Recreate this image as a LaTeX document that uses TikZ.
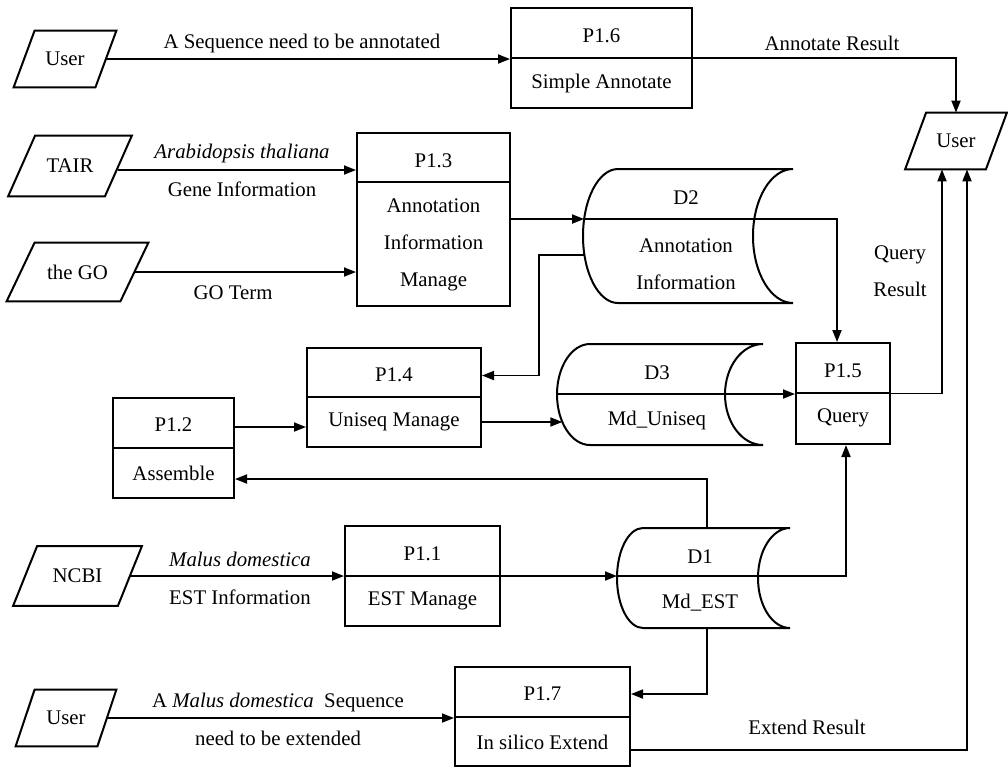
\documentclass[tikz,border=0pt]{standalone}
\usepackage{fontspec}
\setmainfont{Liberation Serif}
\usetikzlibrary{arrows.meta,fit}
\tikzset{
  boxline/.style={line width=1pt},
  box/.style={draw, line width=1pt, inner sep=0pt},
  txt/.style={inner sep=0pt, align=center},
  ptext/.style={inner sep=0pt},
  arr/.style={line width=0.9pt, -{Triangle[length=6pt,width=4.5pt]}},
}
% name, cx, cy, body width, height, slant, text
\newcommand{\paranode}[7]{%
  \node[ptext, minimum width={#4*0.5pt}, minimum height={#5*0.5pt}] (#1) at (#2,#3) {#7};
  \draw[boxline] ([xshift={#6*0.25pt}]#1.north west) -- ([xshift={#6*0.25pt}]#1.north east)
    -- ([xshift={-#6*0.25pt}]#1.south east) -- ([xshift={-#6*0.25pt}]#1.south west) -- cycle;
}
% name, x1, y1, x2, y2, ydiv
\newcommand{\procnode}[6]{%
  \node[box, fit={(#2,#3)(#4,#5)}] (#1) {};
  \draw[boxline] (#2,#6) -- (#4,#6);
}
% name, xl, xr, top, bot, dL, dR
\newcommand{\storenode}[7]{%
  \node[inner sep=0pt, fit={({#2-#6},#4)(#3,#5)}] (#1) {};
  \draw[boxline] (#2,#4) -- (#3,#4)
   .. controls ({#3-0.5523*#7},#4) and ({#3-#7},{(#4+#5)/2-0.5523*(#5-#4)/2}) .. ({#3-#7},{(#4+#5)/2})
   .. controls ({#3-#7},{(#4+#5)/2+0.5523*(#5-#4)/2}) and ({#3-0.5523*#7},#5) .. (#3,#5)
   -- (#2,#5)
   .. controls ({#2-0.5523*#6},#5) and ({#2-#6},{(#4+#5)/2+0.5523*(#5-#4)/2}) .. ({#2-#6},{(#4+#5)/2})
   .. controls ({#2-#6},{(#4+#5)/2-0.5523*(#5-#4)/2}) and ({#2-0.5523*#6},#4) .. (#2,#4) -- cycle;
}
\begin{document}
\begin{tikzpicture}[x=0.5pt,y=-0.5pt, font=\fontsize{10.4}{18.5}\selectfont]
\fill[white] (0,0) rectangle (1008,768);
\useasboundingbox (0,0) rectangle (1008,768);

% external entities
\paranode{u1}{65}{59}{81}{56}{21}{User}
\paranode{tair}{70}{166}{96}{60}{27}{TAIR}
\paranode{thego}{77.5}{272}{113}{58}{28}{the GO}
\paranode{ncbi}{77.5}{576}{104}{59}{24}{NCBI}
\paranode{u3}{66}{718}{81}{56}{19}{User}
\paranode{u2}{956}{141}{80}{56}{21}{User}

% processes
\procnode{p16}{511}{8}{692}{108}{58}
\node[txt] (p16t) at (601.5,36) {P1.6};
\node[txt] (p16b) at (601.5,83) {Simple Annotate};

\procnode{p13}{357}{133}{510}{306}{182}
\node[txt] (p13t) at (433.5,161) {P1.3};
\node[txt] (p13b) at (433.5,244.5) {Annotation\\Information\\Manage};

\procnode{p14}{307}{348}{481}{447}{397}
\node[txt] (p14t) at (394,375) {P1.4};
\node[txt] (p14b) at (394,422) {Uniseq Manage};

\procnode{p12}{113}{398}{234}{498}{448}
\node[txt] (p12t) at (173.5,425) {P1.2};
\node[txt] (p12b) at (173.5,473) {Assemble};

\procnode{p11}{345}{526}{500}{626}{576}
\node[txt] (p11t) at (422.5,554) {P1.1};
\node[txt] (p11b) at (422.5,601) {EST Manage};

\procnode{p17}{455}{667}{630}{766}{717}
\node[txt] (p17t) at (542.5,694) {P1.7};
\node[txt] (p17b) at (542.5,742) {In silico Extend};

\procnode{p15}{796}{343}{890}{444}{393}
\node[txt] (p15t) at (843,371) {P1.5};
\node[txt] (p15b) at (843,418) {Query};

% data stores
\storenode{d2}{618}{793}{169}{303}{35}{40}
\node[txt] (d2t) at (686,198) {D2};
\node[txt] (d2b) at (686,264) {Annotation\\Information};
\coordinate (d2in) at (584.1,219);
\coordinate (d2l) at (584.4,255);

\storenode{d3}{590}{763}{344}{445}{33}{38}
\node[txt] (d3t) at (657,373) {D3};
\node[txt] (d3b) at (657,420) {Md\_Uniseq};
\coordinate (d3l) at (557,394);
\coordinate (d3a) at (562.3,422);

\storenode{d1}{643}{790}{528}{628}{26}{32}
\node[txt] (d1t) at (700,557) {D1};
\node[txt] (d1b) at (700,603) {Md\_EST};
\coordinate (d1l) at (617,576);
\coordinate (d1top) at (707,528);
\coordinate (d1bot) at (707,628);

% connectors
\draw[arr] (u1.east) -- (u1.east -| p16.west);
\node[txt] (l1) at (302,43) {A Sequence need to be annotated};

\draw[arr] (p16.east) -| (u2.north);
\node[txt] (l2) at (832,43) {Annotate Result};

\draw[arr] ([yshift=-2pt]tair.east) -- ([yshift=-2pt]tair.east -| p13.west);
\node[txt] (l3) at (242,153) {\textit{Arabidopsis thaliana}};
\node[txt] (l4) at (242,189) {Gene Information};

\draw[arr] (thego.east) -- (thego.east -| p13.west);
\node[txt] (l5) at (233,293) {GO Term};

\draw[arr] (p13.east |- d2in) -- (d2in);
\draw[arr] (d2in) -| ([xshift=-3pt]p15.north);
\draw[arr] (d2l) -- (539,255) |- ([yshift=11pt]p14.east);

\draw[arr] ([yshift=10.5pt]p12.east) -- ([yshift=10.5pt]p12.east -| p14.west);
\draw[arr] (p14.east |- d3a) -- (d3a);
\draw[arr] (d3l) -- (d3l -| p15.west);

\draw[arr] (p15.east) -| ([xshift=-7pt]u2.south);
\node[txt] (l6) at (900,271) {Query\\Result};

\draw[arr] (ncbi.east) -- (ncbi.east -| p11.west);
\node[txt] (l7) at (240,559) {\textit{Malus domestica}};
\node[txt] (l8) at (240,597) {EST Information};

\draw[arr] (p11.east) -- (p11.east -| d1l);
\draw[arr] (d1l) -| ([xshift=1.5pt]p15.south);
\draw[arr] (d1top) |- ([yshift=-15.5pt]p12.east);
\draw[arr] (d1bot) |- ([yshift=11.25pt]p17.east);

\draw[arr] (u3.east) -- (u3.east -| p17.west);
\node[txt] (l9) at (278,702) {A \textit{Malus domestica}\ \ Sequence};
\node[txt] (l10) at (278,738) {need to be extended};

\draw[arr] ([yshift=-16.75pt]p17.east) -| ([xshift=5.5pt]u2.south);
\node[txt] (l11) at (807,727) {Extend Result};
\end{tikzpicture}
\end{document}
